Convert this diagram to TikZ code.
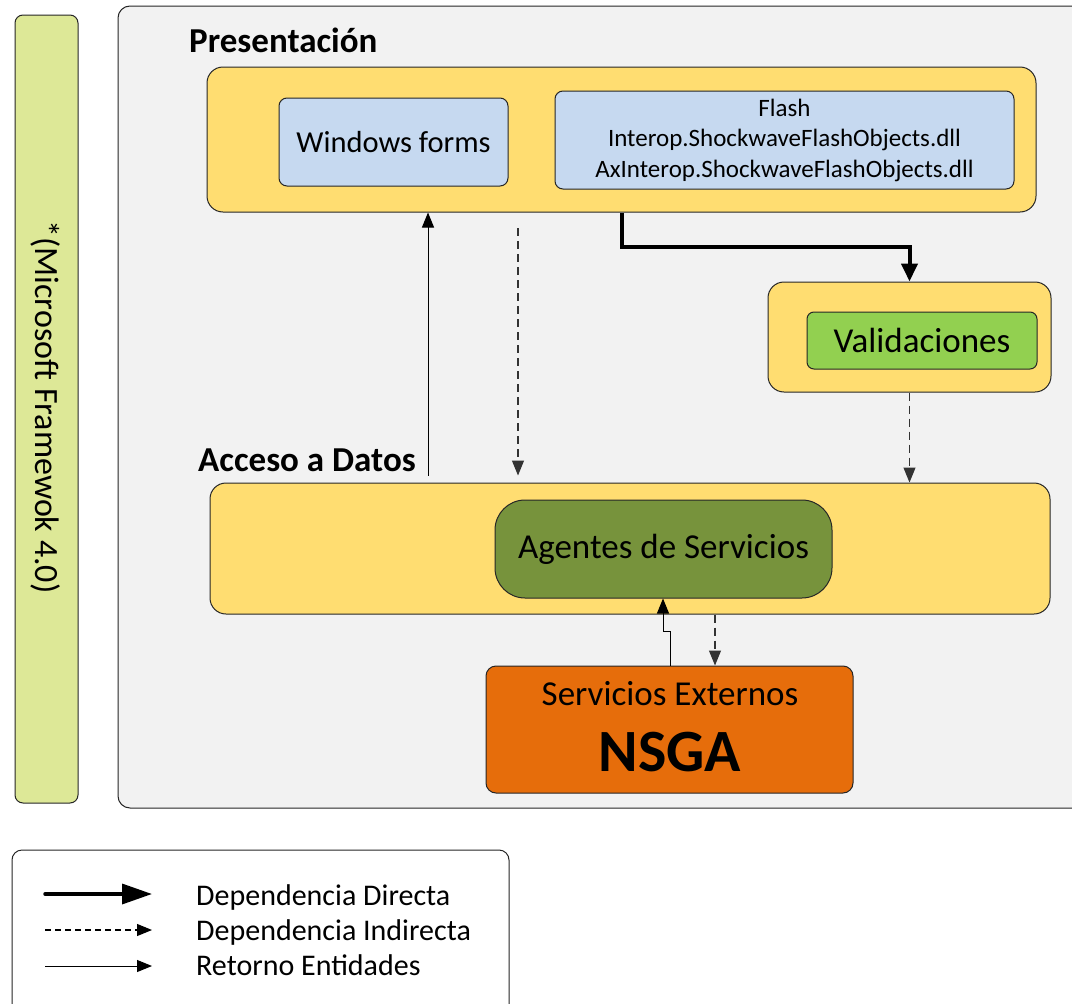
\documentclass[tikz,border=0pt]{standalone}
\usepackage{fontspec}
\setmainfont{Carlito}
\usetikzlibrary{arrows.meta,calc}
\definecolor{panelgray}{HTML}{F2F2F2}
\definecolor{layeryellow}{HTML}{FFDD71}
\definecolor{libblue}{HTML}{C6D9F0}
\definecolor{valgreen}{HTML}{92D050}
\definecolor{olive}{HTML}{77933C}
\definecolor{extorange}{HTML}{E66D0B}
\definecolor{fwgreen}{HTML}{DDE897}
\newcommand{\fsz}[2]{\fontsize{#1}{#2}\selectfont}
\tikzset{
  boxbase/.style={draw=black!85, line width=1pt, rectangle, inner sep=0pt, align=center},
  panelbox/.style={boxbase, fill=panelgray, rounded corners=12pt},
  layerbox/.style={boxbase, fill=layeryellow, rounded corners=16pt},
  libbox/.style={boxbase, fill=libblue, rounded corners=8pt},
  valbox/.style={boxbase, fill=valgreen, rounded corners=7pt},
  agentbox/.style={boxbase, fill=olive, rounded corners=30pt},
  extbox/.style={boxbase, fill=extorange, rounded corners=10pt},
  fwbox/.style={boxbase, fill=fwgreen, rounded corners=8pt},
  legendbox/.style={boxbase, fill=white, rounded corners=10pt},
  title/.style={font=\fsz{35}{42}\bfseries, anchor=west, inner sep=0pt},
  directdep/.style={line width=4pt, -{Triangle[length=18pt,width=16pt]}},
  indirectdep/.style={draw=black!80, line width=1.1pt, dash pattern=on 8pt off 5pt, -{Triangle[length=15pt,width=12pt]}},
  returnent/.style={line width=1pt, -{Triangle[length=15pt,width=12pt]}},
  legtext/.style={font=\fsz{30}{36}, anchor=west, inner sep=0pt}
}
\begin{document}
\begin{tikzpicture}[x=1pt,y=-1pt]
\useasboundingbox (0,0) rectangle (1072,1004);
% framework bar
\node[fwbox, minimum width=63pt, minimum height=788pt] (fw) at (46.5,409) {};
\node[rotate=-90, font=\fsz{34}{40}, inner sep=0pt] (fwtext) at (46,407) {*(Microsoft Framewok 4.0)};
% main panel
\node[panelbox, minimum width=967pt, minimum height=802pt] (panel) at (601.5,407) {};
\node[title] (prestitle) at (189,40) {Presentación};
% presentation layer
\node[layerbox, minimum width=829pt, minimum height=145pt] (pres) at (621.5,139.5) {};
\node[libbox, minimum width=229pt, minimum height=88pt, font=\fsz{30.5}{36}] (winforms) at (393.5,142) {Windows forms};
\node[libbox, minimum width=459pt, minimum height=98pt, font=\fsz{25}{30.5}] (flash) at (784.5,140)
  {Flash\\Interop.ShockwaveFlashObjects.dll\\AxInterop.ShockwaveFlashObjects.dll};
% validations
\node[layerbox, minimum width=283pt, minimum height=110pt] (valY) at (909.5,337) {};
\node[valbox, minimum width=230pt, minimum height=57pt, font=\fsz{35}{42}] (valG) at (922,340.5) {Validaciones};
% data access
\node[title] (acctitle) at (198,460) {Acceso a Datos};
\node[layerbox, minimum width=840pt, minimum height=131pt] (acc) at (630,548.5) {};
\node[agentbox, minimum width=337pt, minimum height=98pt, font=\fsz{35}{42}] (agentes) at (663.5,549) {Agentes de Servicios};
% external services
\node[extbox, minimum width=367pt, minimum height=127pt] (nsga) at (669.5,729.5) {};
\node[font=\fsz{35}{42}, inner sep=0pt] (exttext) at (670,694) {Servicios Externos};
\node[font=\fsz{60}{72}\bfseries, inner sep=0pt] (nsgatext) at (670,752) {NSGA};
% connectors
\draw[directdep] (pres.south -| 622,0) -- (622,247) -| (valY.north);
\draw[returnent, shorten <=7pt] (acc.north -| 428,0) -- (pres.south -| 428,0);
\draw[indirectdep, shorten >=7pt] (518,228) coordinate (dstart) -- (acc.north -| dstart);
\draw[indirectdep] (valY.south) -- (acc.north -| valY.south);
\draw[returnent] (nsga.north -| 670,0) -- (670,631) -- (663,631) -- (agentes.south -| 663,0);
\draw[indirectdep] (acc.south -| 715,0) -- (nsga.north -| 715,0);
% legend
\node[legendbox, minimum width=497pt, minimum height=170pt] (legend) at (260.5,935) {};
\coordinate (l1a) at (45,894); \coordinate (l1b) at (152,894);
\coordinate (l2a) at (45,930); \coordinate (l2b) at (152,930);
\coordinate (l3a) at (45,966); \coordinate (l3b) at (152,966);
\draw[line width=3.5pt, line cap=round, -{Triangle[length=30pt,width=20pt]}] (l1a) -- (l1b);
\draw[indirectdep, draw=black, dash pattern=on 6pt off 4pt] (l2a) -- (l2b);
\draw[returnent] (l3a) -- (l3b);
\node[legtext] (lt1) at (196,897) {Dependencia Directa};
\node[legtext] (lt2) at (196,932) {Dependencia Indirecta};
\node[legtext] (lt3) at (196,965) {Retorno Entidades};
\end{tikzpicture}
\end{document}
